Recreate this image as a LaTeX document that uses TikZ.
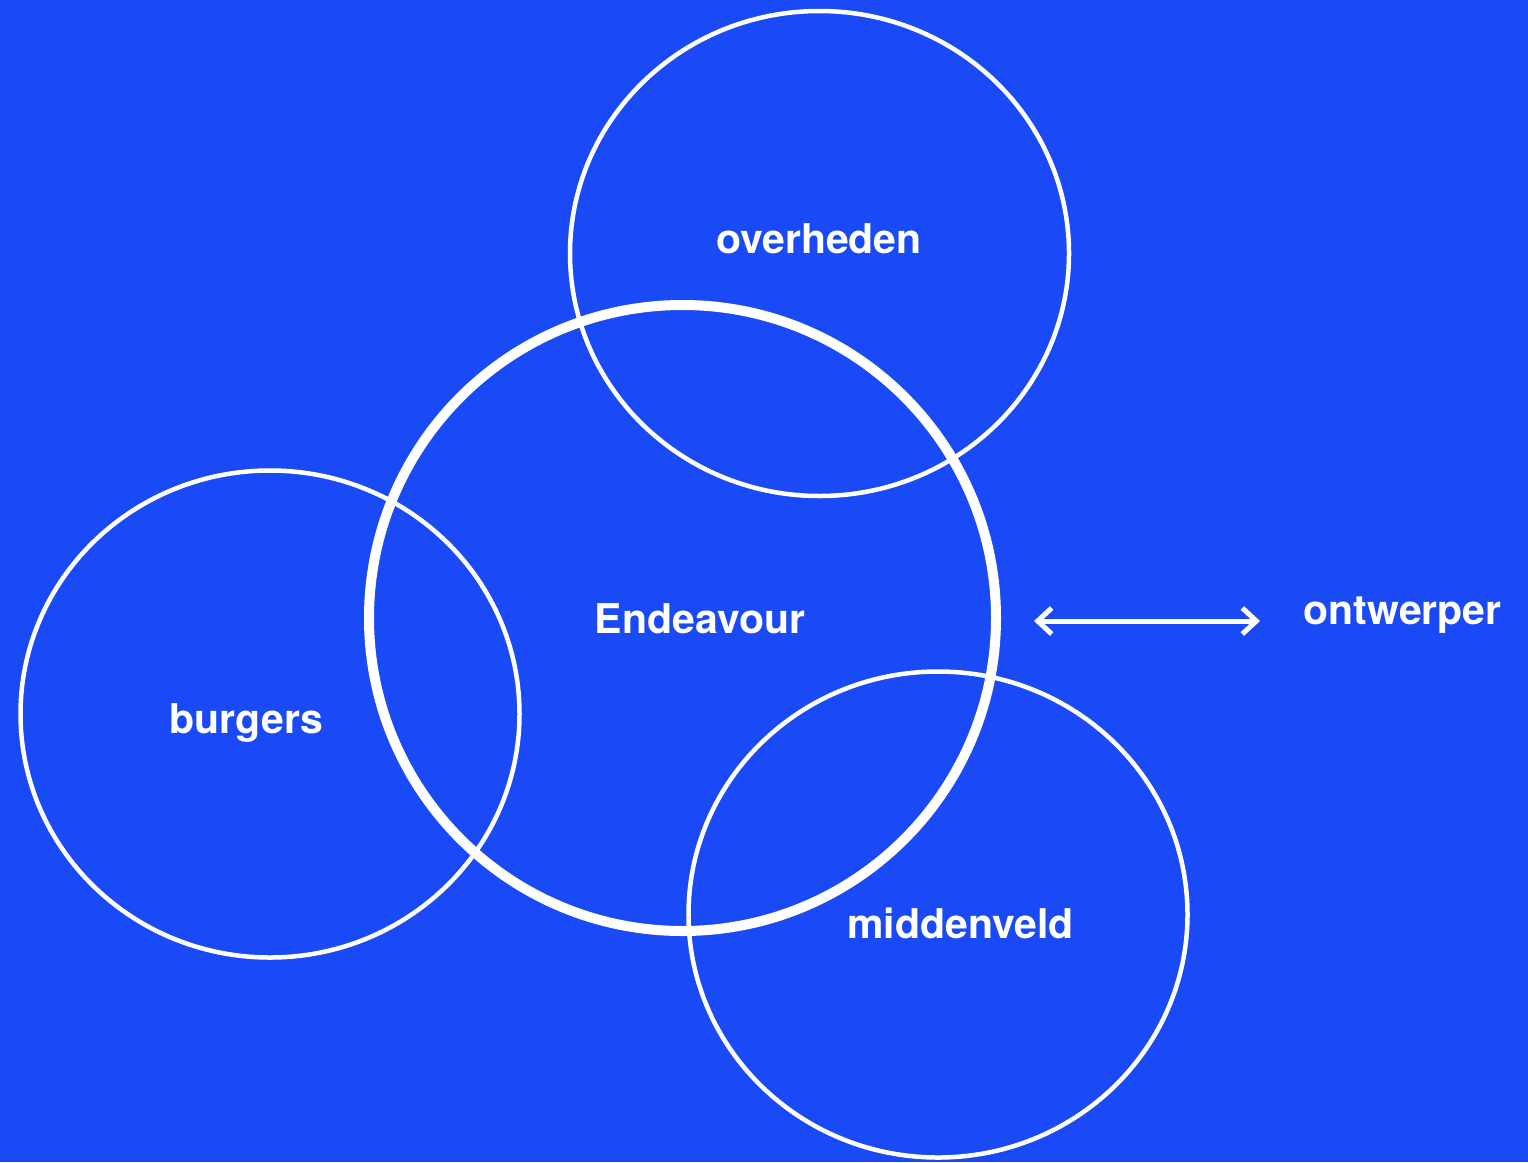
\documentclass[tikz,border=0pt]{standalone}
\usepackage{fontspec}
\setmainfont{TeX Gyre Heros}
\usetikzlibrary{arrows.meta}
\definecolor{bgblue}{RGB}{26,74,246}
\tikzset{
  thinring/.style={draw=white, line width=4.5pt},
  thickring/.style={draw=white, line width=10pt},
  lbl/.style={text=white, font=\fontsize{41}{48}\selectfont\bfseries, inner sep=0pt, anchor=base},
  dblarrow/.style={draw=white, line width=5pt, {Straight Barb[length=14pt,width=26pt,line width=5pt]}-{Straight Barb[length=14pt,width=26pt,line width=5pt]}}
}
\begin{document}
\begin{tikzpicture}[x=1pt,y=-1pt]
\fill[bgblue] (0,0) rectangle (1528,1162);
\useasboundingbox (0,0) rectangle (1528,1162);
\draw[thinring] (819.5,253.5) ellipse [x radius=249.5, y radius=242.5];
\draw[thinring] (270,714) ellipse [x radius=249.5, y radius=243.5];
\draw[thinring] (938,914.5) ellipse [x radius=249.5, y radius=243];
\draw[thickring] (682.5,618) ellipse [x radius=313.5, y radius=313];
\node[lbl] (over) at (819,253) {overheden};
\node[lbl] (endv) at (700,633) {Endeavour};
\node[lbl] (burg) at (246.5,733) {burgers};
\node[lbl] (midd) at (960.5,938) {middenveld};
\node[lbl] (ontw) at (1402.5,624) {ontwerper};
\coordinate (al) at (1034,621);
\coordinate (ar) at (1260,621);
\draw[dblarrow] (al) -- (ar);
\end{tikzpicture}
\end{document}
